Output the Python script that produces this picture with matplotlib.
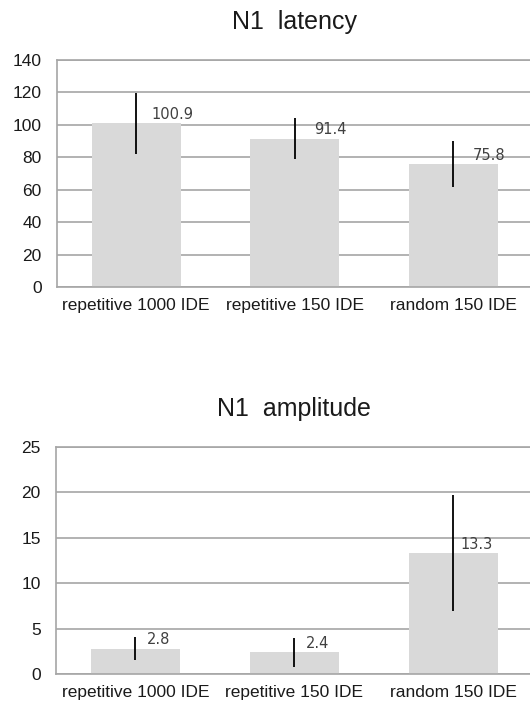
import matplotlib
matplotlib.use("Agg")  # sem janela
import matplotlib.pyplot as plt
import numpy as np

# dados
conditions = ["repetitive 1000 IDE", "repetitive 150 IDE", "random 150 IDE"]

latency_mean = [100.9, 91.4, 75.8]
latency_err = [19.0, 12.6, 14.1]
latency_ticks = [0, 20, 40, 60, 80, 100, 120, 140]

amplitude_mean = [2.8, 2.4, 13.3]
amplitude_err = [1.3, 1.6, 6.4]
amplitude_ticks = [0, 5, 10, 15, 20, 25]

BAR_COLOR = "#d9d9d9"
GRID_COLOR = "#a6a6a6"
DPI = 100


def draw_panel(ax, title, means, errs, ticks, label_dx):
    x = np.arange(len(conditions))
    ax.bar(x, means, width=0.56, color=BAR_COLOR, zorder=2)
    ax.errorbar(x, means, yerr=errs, fmt="none", ecolor="black",
                elinewidth=1.3, capsize=0, zorder=3)

    # rótulos de valor (estilo Excel, deslocados à direita)
    for xi, m in zip(x, means):
        ax.annotate(f"{m:.1f}", xy=(xi, m), xytext=(label_dx, 6.5),
                    textcoords="offset points", ha="center", va="center",
                    fontsize=10.5, family="DejaVu Sans", color="#404040",
                    zorder=4)

    ax.set_xlim(-0.5, len(conditions) - 0.5)
    ax.set_ylim(ticks[0], ticks[-1])
    ax.set_yticks(ticks)
    ax.set_xticks(x)
    ax.set_xticklabels(conditions)

    ax.yaxis.grid(True, color=GRID_COLOR, lw=1.2, zorder=1)
    ax.set_axisbelow(True)
    for side in ["left", "bottom", "top"]:
        ax.spines[side].set_color(GRID_COLOR)
        ax.spines[side].set_linewidth(1.2)
    ax.spines["right"].set_visible(False)

    ax.tick_params(axis="both", length=0, labelsize=12.5, colors="#1a1a1a")
    ax.tick_params(axis="y", pad=11)
    ax.tick_params(axis="x", pad=8)
    for lbl in ax.get_xticklabels() + ax.get_yticklabels():
        lbl.set_family("Liberation Sans")

    pos = ax.get_position()
    return pos


fig = plt.figure(figsize=(530 / DPI, 706 / DPI), dpi=DPI)

ax1 = fig.add_axes([57 / 530, (706 - 287) / 706, 475.5 / 530, 227 / 706])
draw_panel(ax1, "N1 latency", latency_mean, latency_err, latency_ticks, 26)
fig.text((57 + 532.5) / 2 / 530, 1 - 22 / 706, "N1  latency",
         ha="center", va="center", fontsize=18, family="Liberation Sans",
         color="#1a1a1a")

ax2 = fig.add_axes([56 / 530, (706 - 674) / 706, 476.5 / 530, 227.3 / 706])
draw_panel(ax2, "N1 amplitude", amplitude_mean, amplitude_err, amplitude_ticks, 17)
fig.text((56 + 532.5) / 2 / 530, 1 - 409 / 706, "N1  amplitude",
         ha="center", va="center", fontsize=18, family="Liberation Sans",
         color="#1a1a1a")

plt.savefig("out.png", dpi=DPI)
plt.close()
